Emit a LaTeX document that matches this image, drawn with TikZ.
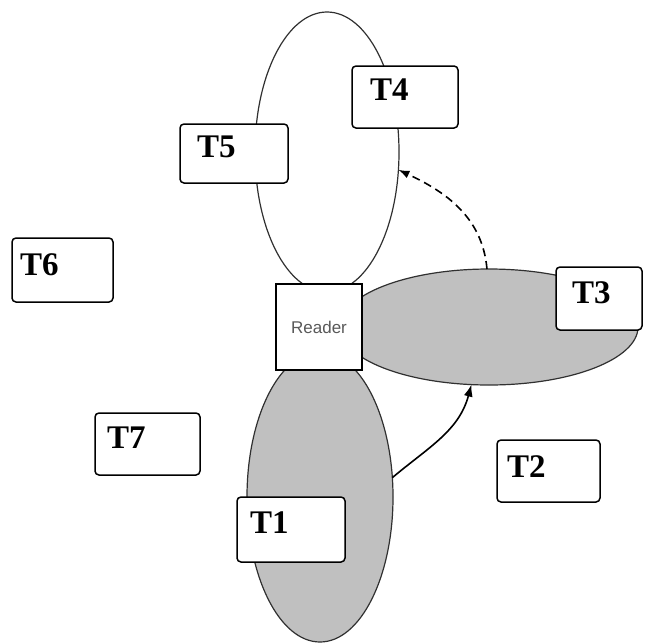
\documentclass[tikz,border=0pt]{standalone}
\usepackage{fontspec}
\setmainfont{Liberation Serif}
\newfontfamily\readerfont{Liberation Sans}
\usetikzlibrary{shapes.geometric,arrows.meta}
\definecolor{lobe}{HTML}{C0C0C0}
\definecolor{edge}{HTML}{303030}
\begin{document}
\begin{tikzpicture}[x=1pt,y=-1pt,
  lobeshape/.style={ellipse,draw=edge,line width=1.2pt,inner sep=0pt,outer sep=0pt},
  tagbox/.style={draw=black,fill=white,line width=1.5pt,rounded corners=4pt,
    inner sep=0pt,outer sep=0pt},
  taglabel/.style={anchor=base west,inner sep=0pt,
    font=\fontsize{33}{36}\selectfont\bfseries},
  readerbox/.style={draw=black,fill=white,line width=1.5pt,minimum width=86pt,
    minimum height=86pt,inner sep=0pt,outer sep=0pt,
    font=\readerfont\fontsize{17}{20}\selectfont,text=black!65},
  link/.style={line width=1.6pt,-{Latex[length=12pt,width=9pt]}},
]
\useasboundingbox (0,0) rectangle (645,643);

% antenna lobes
\node[lobeshape,fill=white,minimum width=144pt,minimum height=280pt] (lobeup) at (327,152) {};
\node[lobeshape,fill=lobe,minimum width=298pt,minimum height=116pt] (loberight) at (489,327) {};
\node[lobeshape,fill=lobe,minimum width=146pt,minimum height=290pt] (lobedown) at (320,497) {};

% reader
\node[readerbox] (reader) at (319,327) {Reader};

% tags
\node[tagbox,minimum width=106pt,minimum height=62pt] (t4) at (405,97) {};
\node[taglabel] (t4l) at (370,100) {T4};
\node[tagbox,minimum width=108pt,minimum height=59pt] (t5) at (234,153.5) {};
\node[taglabel] (t5l) at (197,157) {T5};
\node[tagbox,minimum width=86pt,minimum height=63pt] (t3) at (599,298.5) {};
\node[taglabel] (t3l) at (572,303) {T3};
\node[tagbox,minimum width=101pt,minimum height=64pt] (t6) at (62.5,270) {};
\node[taglabel] (t6l) at (20,275) {T6};
\node[tagbox,minimum width=105pt,minimum height=62pt] (t7) at (147.5,444) {};
\node[taglabel] (t7l) at (107,448) {T7};
\node[tagbox,minimum width=103pt,minimum height=62pt] (t2) at (548.5,471) {};
\node[taglabel] (t2l) at (507,477) {T2};
\node[tagbox,minimum width=108pt,minimum height=65pt] (t1) at (291,529.5) {};
\node[taglabel] (t1l) at (250,533) {T1};

% transfers between lobes
\draw[link] (lobedown.15) to[out=40,in=-105] (loberight.-107);
\draw[link,dashed,dash pattern=on 8pt off 5pt,
  -{Latex[length=11pt,width=8pt]}] (loberight.92) to[out=95,in=-25] (lobeup.-14);
\end{tikzpicture}
\end{document}
